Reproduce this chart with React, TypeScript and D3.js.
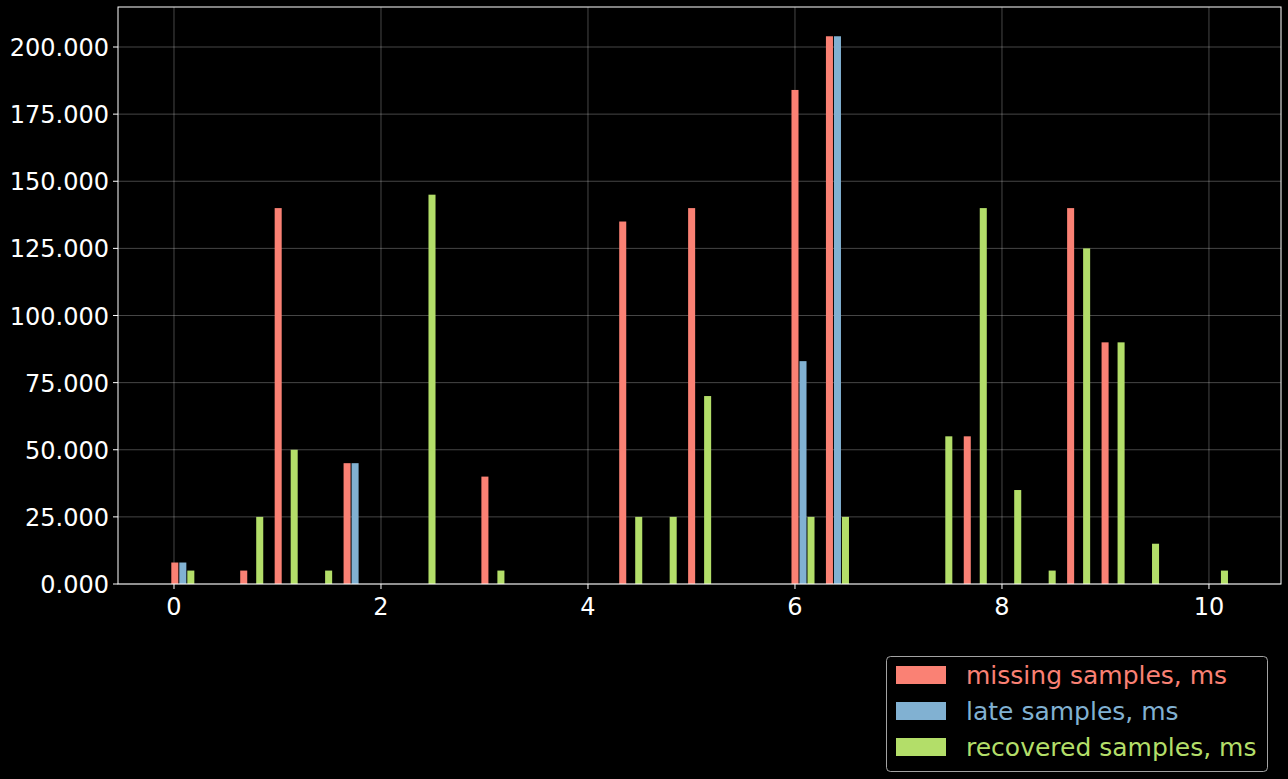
import React from "react";
import * as d3 from "d3";

const series = ["missing samples, ms", "late samples, ms", "recovered samples, ms"];
const colors = ["#fa8174", "#81b1d2", "#b3de69"];
// [bin index, value]
const missing: [number, number][] = [[0,8],[2,5],[3,140],[5,45],[9,40],[13,135],[15,140],[18,184],[19,204],[23,55],[26,140],[27,90]];
const late: [number, number][] = [[0,8],[5,45],[18,83],[19,204]];
const recovered: [number, number][] = [[0,5],[2,25],[3,50],[4,5],[7,145],[9,5],[13,25],[14,25],[15,70],[18,25],[19,25],[22,55],[23,140],[24,35],[25,5],[26,125],[27,90],[28,15],[30,5]];
const xTicks = [0, 2, 4, 6, 8, 10];
const yTicks = [0, 25, 50, 75, 100, 125, 150, 175, 200];

const binStart = -0.026, binW = 0.3329, barStep = 0.0773, barW = 0.068;

export default function App() {
  const L = 118, R = 1281, T = 7, B = 584;
  const x = d3.scaleLinear().domain([-0.541, 10.696]).range([L, R]);
  const y = d3.scaleLinear().domain([0, 200]).range([B, 47]);
  const all = [missing, late, recovered];
  return (
    <svg width={1288} height={779} style={{ position: "absolute", left: 0, top: 0, background: "#000" }} fontFamily="DejaVu Sans">
      <rect width={1288} height={779} fill="#000" />
      {xTicks.map(t => <line key={"gx"+t} x1={x(t)} x2={x(t)} y1={T} y2={B} stroke="#fff" strokeOpacity={0.35} strokeWidth={0.8} />)}
      {yTicks.map(t => <line key={"gy"+t} x1={L} x2={R} y1={y(t)} y2={y(t)} stroke="#fff" strokeOpacity={0.35} strokeWidth={0.8} />)}
      {all.map((s, k) => s.map(([i, v]) => {
        const x0 = binStart + i * binW + k * barStep;
        return <rect key={k + "-" + i} x={x(x0)} width={x(x0 + barW) - x(x0)} y={y(v)} height={y(0) - y(v)} fill={colors[k]} />;
      }))}
      <rect x={L} y={T} width={R - L} height={B - T} fill="none" stroke="#fff" strokeWidth={1} />
      {xTicks.map(t => <g key={"tx"+t}>
        <line x1={x(t)} x2={x(t)} y1={B} y2={B + 5} stroke="#fff" />
        <text x={x(t)} y={B + 31} fill="#fff" fontSize={24} textAnchor="middle">{t}</text>
      </g>)}
      {yTicks.map(t => <g key={"ty"+t}>
        <line x1={L - 5} x2={L} y1={y(t)} y2={y(t)} stroke="#fff" />
        <text x={L - 9} y={y(t) + 9} fill="#fff" fontSize={24} textAnchor="end">{d3.format(".3f")(t)}</text>
      </g>)}
      <rect x={886.5} y={656.5} width={381} height={115} rx={4} fill="#000" stroke="#ccc" strokeOpacity={0.8} />
      {series.map((s, k) => <g key={s}>
        <rect x={896} y={666 + k * 36} width={50} height={18} fill={colors[k]} />
        <text x={966} y={684 + k * 36} fill={colors[k]} fontSize={25}>{s}</text>
      </g>)}
    </svg>
  );
}
